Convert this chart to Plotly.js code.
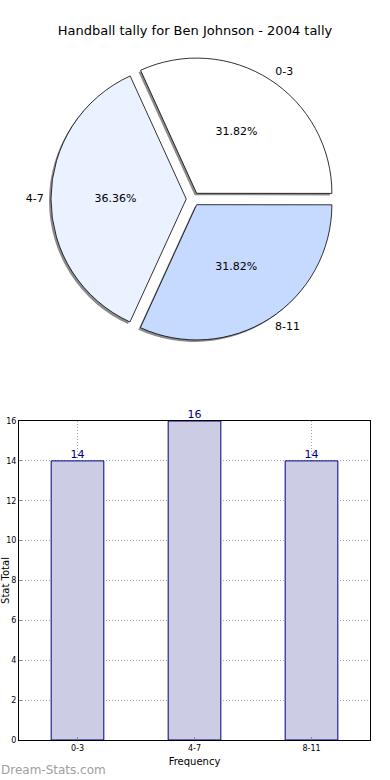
<!DOCTYPE html>
<html>
<head>
<meta charset="utf-8">
<script src="https://cdn.plot.ly/plotly-3.0.1.min.js"></script>
<style>
html,body{margin:0;padding:0;background:#fff;}
#chart{width:390px;height:780px;}
</style>
</head>
<body>
<div id="chart"></div>
<script>
// ---- data ----
const categories = ['0-3', '4-7', '8-11'];
const counts = [14, 16, 14];
const yTickVals = [0, 2, 4, 6, 8, 10, 12, 14, 16];
const chartTitle = 'Handball tally for Ben Johnson - 2004 tally';
const xTitle = 'Frequency';
const yTitle = 'Stat Total';
const watermark = 'Dream-Stats.com';

// ---- styles ----
const sliceColors = ['#ffffff', '#eaf1ff', '#c6d9ff'];
const FONT = 'DejaVu Sans, sans-serif';
const W = 390, H = 780;
function px(x){ return x / W; }
function py(y){ return 1 - y / H; }

// pie geometry (pixel box of domain)
const pieBox = {x0: 51, x1: 335, y0: 57, y1: 341};
const pull = [0.05, 0.05, 0.05];
const ROT = -24.5;

const shadow = {
  type: 'pie', values: counts, labels: categories, sort: false,
  direction: 'counterclockwise', rotation: ROT, pull: pull,
  marker: {colors: ['rgba(0,0,0,0.45)','rgba(0,0,0,0.45)','rgba(0,0,0,0.45)'], line: {width: 0}},
  textinfo: 'none', hoverinfo: 'skip', showlegend: false,
  domain: {x: [px(pieBox.x0 - 2), px(pieBox.x1 - 2)], y: [py(pieBox.y1 + 2), py(pieBox.y0 + 2)]}
};
const pie = {
  type: 'pie', values: counts, labels: categories, sort: false,
  direction: 'counterclockwise', rotation: ROT, pull: pull,
  marker: {colors: sliceColors, line: {color: '#000000', width: 0.8}},
  texttemplate: '%{percent:.2%}', textposition: 'inside',
  insidetextorientation: 'horizontal',
  textfont: {family: FONT, size: 11, color: '#000000'},
  hoverinfo: 'skip', showlegend: false,
  domain: {x: [px(pieBox.x0), px(pieBox.x1)], y: [py(pieBox.y1), py(pieBox.y0)]}
};
const pieLabels = {
  type: 'pie', values: counts, labels: categories, sort: false,
  direction: 'counterclockwise', rotation: ROT, pull: pull,
  marker: {colors: ['rgba(0,0,0,0)','rgba(0,0,0,0)','rgba(0,0,0,0)'], line: {width: 0}},
  texttemplate: '%{label}', textposition: 'outside',
  outsidetextfont: {family: FONT, size: 11, color: '#000000'},
  hoverinfo: 'skip', showlegend: false,
  domain: {x: [px(pieBox.x0 - 4), px(pieBox.x1 + 4)], y: [py(pieBox.y1 + 4), py(pieBox.y0 - 4)]}
};

const bars = {
  type: 'bar', x: categories, y: counts, width: 0.45,
  marker: {color: '#ccccE5', line: {color: '#000080', width: 1}},
  hoverinfo: 'skip', showlegend: false, xaxis: 'x', yaxis: 'y'
};
const barText = {
  type: 'scatter', mode: 'text', x: categories, y: counts,
  text: counts.map(String), textposition: 'top center',
  textfont: {family: FONT, size: 11, color: '#000080'},
  cliponaxis: false, hoverinfo: 'skip', showlegend: false, xaxis: 'x', yaxis: 'y'
};

const layout = {
  width: W, height: H,
  margin: {l: 0, r: 0, t: 0, b: 0},
  paper_bgcolor: '#ffffff', plot_bgcolor: '#ffffff',
  font: {family: FONT, color: '#000000'},
  title: {text: chartTitle, font: {family: FONT, size: 13, color: '#000000'},
          x: 0.5, xanchor: 'center', y: py(30), yanchor: 'middle', xref: 'paper', yref: 'paper'},
  xaxis: {
    domain: [px(19), px(370)], anchor: 'y',
    range: [-0.5, 2.5], type: 'category',
    showline: true, mirror: true, linecolor: '#000000', linewidth: 1,
    showgrid: true, gridcolor: '#a8a8a8', griddash: '1px,2px', gridwidth: 1,
    ticks: 'inside', ticklen: 3, tickcolor: '#888888',
    tickfont: {family: FONT, size: 8, color: '#000000'},
    title: {text: xTitle, font: {family: FONT, size: 10, color: '#000000'}, standoff: 6},
    zeroline: false, fixedrange: true
  },
  yaxis: {
    domain: [py(740), py(421)], anchor: 'x',
    range: [0, 16], tickvals: yTickVals,
    showline: true, mirror: true, linecolor: '#000000', linewidth: 1,
    showgrid: true, gridcolor: '#a8a8a8', griddash: '1px,2px', gridwidth: 1,
    ticks: 'inside', ticklen: 3, tickcolor: '#888888',
    tickfont: {family: FONT, size: 8, color: '#000000'},
    title: {text: yTitle, font: {family: FONT, size: 10, color: '#000000'}, standoff: 12},
    zeroline: false, fixedrange: true
  },
  annotations: [{
    text: watermark, xref: 'paper', yref: 'paper', x: px(-1), y: py(770),
    xanchor: 'left', yanchor: 'middle', showarrow: false,
    font: {family: FONT, size: 12, color: '#a0a0a0'}
  }]
};

Plotly.newPlot('chart', [shadow, pie, pieLabels, bars, barText], layout,
  {staticPlot: true, displayModeBar: false});
</script>
</body>
</html>
